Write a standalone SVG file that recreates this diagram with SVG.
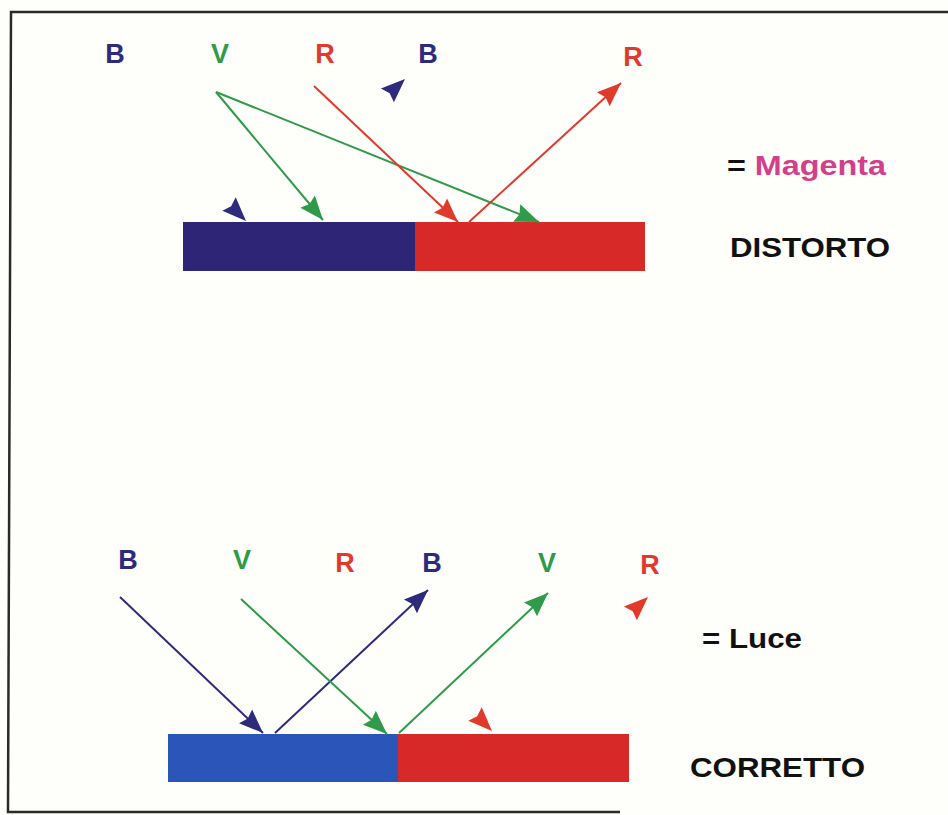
<svg xmlns="http://www.w3.org/2000/svg" xmlns:xlink="http://www.w3.org/1999/xlink" width="948" height="815" viewBox="0 0 948 815">
<style>
.lbl{font-family:"Liberation Sans",Arial,sans-serif;font-weight:bold;font-size:27px;text-anchor:middle}
.txt{font-family:"Liberation Sans",Arial,sans-serif;font-weight:bold;font-size:28px}
.b{fill:#2e2a7c}.g{fill:#2e9a4a}.r{fill:#df3a2c}
.ray{fill:none;stroke-width:2}
.sb{stroke:#2e2a7c}.sg{stroke:#2e9a4a}.sr{stroke:#df3a2c}
</style>
<defs>
<path id="ah" d="M0,0 L-24,-9.5 L-21,0 L-24,9.5 Z"/>
<marker id="mB" markerUnits="userSpaceOnUse" markerWidth="28" markerHeight="22" viewBox="-26 -11 28 22" refX="0" refY="0" orient="auto"><use xlink:href="#ah" fill="#2e2a7c"/></marker>
<marker id="mG" markerUnits="userSpaceOnUse" markerWidth="28" markerHeight="22" viewBox="-26 -11 28 22" refX="0" refY="0" orient="auto"><use xlink:href="#ah" fill="#2e9a4a"/></marker>
<marker id="mR" markerUnits="userSpaceOnUse" markerWidth="28" markerHeight="22" viewBox="-26 -11 28 22" refX="0" refY="0" orient="auto"><use xlink:href="#ah" fill="#df3a2c"/></marker>
</defs>
<rect width="948" height="815" fill="#fefefb"/>
<path d="M948,12 L11,12 L8,812 L620,812" fill="none" stroke="#2a2a2a" stroke-width="2.5"/>

<g id="top-labels">
<text class="lbl b" x="115" y="63">B</text>
<text class="lbl g" x="220" y="63">V</text>
<text class="lbl r" x="325" y="63">R</text>
<text class="lbl b" x="428" y="63">B</text>
<text class="lbl r" x="633" y="66">R</text>
</g>
<g id="top-bar">
<rect x="183" y="222" width="232" height="49" fill="#2f2577"/>
<rect x="415" y="222" width="230" height="49" fill="#d72a28"/>
</g>
<g id="top-text">
<text class="txt" x="727" y="175" textLength="159" lengthAdjust="spacingAndGlyphs"><tspan fill="#111">= </tspan><tspan fill="#d2408a">Magenta</tspan></text>
<text class="txt" x="730" y="257" fill="#111" textLength="160" lengthAdjust="spacingAndGlyphs">DISTORTO</text>
</g>

<g id="bottom-labels">
<text class="lbl b" x="128" y="569">B</text>
<text class="lbl g" x="242" y="569">V</text>
<text class="lbl r" x="345" y="572">R</text>
<text class="lbl b" x="432" y="572">B</text>
<text class="lbl g" x="547" y="572">V</text>
<text class="lbl r" x="650" y="574">R</text>
</g>
<g id="bottom-bar">
<rect x="168" y="734" width="230" height="48" fill="#2b55b8"/>
<rect x="398" y="734" width="231" height="48" fill="#d72a28"/>
</g>
<g id="bottom-text">
<text class="txt" x="702" y="648" fill="#111" textLength="100" lengthAdjust="spacingAndGlyphs">= Luce</text>
<text class="txt" x="690" y="777" fill="#111" textLength="175" lengthAdjust="spacingAndGlyphs">CORRETTO</text>
</g>

<g id="connectors">
<line class="ray sg" x1="216" y1="92" x2="323" y2="220" marker-end="url(#mG)"/>
<line class="ray sg" x1="216" y1="92" x2="539" y2="222" marker-end="url(#mG)"/>
<line class="ray sr" x1="314" y1="86" x2="458" y2="222" marker-end="url(#mR)"/>
<line class="ray sr" x1="469" y1="222" x2="621" y2="83" marker-end="url(#mR)"/>
<use xlink:href="#ah" fill="#2e2a7c" transform="translate(405,79) rotate(-43)"/>
<use xlink:href="#ah" fill="#2e2a7c" transform="translate(246,221) rotate(45)"/>

<line class="ray sb" x1="120" y1="597" x2="263" y2="733" marker-end="url(#mB)"/>
<line class="ray sb" x1="275" y1="733" x2="428" y2="590" marker-end="url(#mB)"/>
<line class="ray sg" x1="241" y1="599" x2="387" y2="734" marker-end="url(#mG)"/>
<line class="ray sg" x1="399" y1="733" x2="548" y2="593" marker-end="url(#mG)"/>
<use xlink:href="#ah" fill="#df3a2c" transform="translate(648,597) rotate(-43)"/>
<use xlink:href="#ah" fill="#df3a2c" transform="translate(492,731) rotate(45)"/>
</g>
</svg>
